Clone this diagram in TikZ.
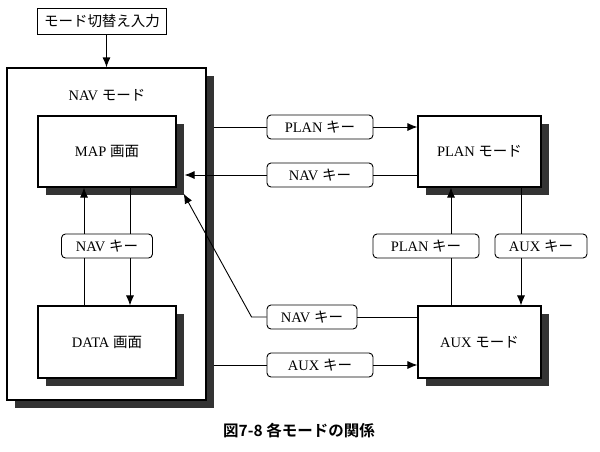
\documentclass[tikz,border=0pt]{standalone}
\usepackage{fontspec}
\usepackage{tikz}
\usetikzlibrary{arrows.meta,shadows}
\setmainfont{Liberation Serif}
\newfontfamily\jp{Noto Sans CJK JP}
\newfontfamily\jpb{Noto Sans CJK JP Bold}

\begin{document}
\begin{tikzpicture}[x=1pt,y=-1pt,font=\fontsize{14.5}{17}\selectfont]
    \tikzstyle{mode}=[draw, line width=1.1pt, fill=white, inner sep=0pt,
      drop shadow={shadow xshift=8pt, shadow yshift=-8pt, fill=black!80, opacity=1}]
    \tikzstyle{keybox}=[draw, line width=0.9pt, fill=white, rounded corners=4pt,
      minimum height=24pt, inner sep=0pt]
    \tikzstyle{arr}=[-{Latex[length=10pt,width=8pt]}]
    \useasboundingbox (0,0) rectangle (600,451);
    \node[draw, line width=1pt, minimum width=129pt, minimum height=26pt, inner sep=0pt] (input) at (102,21) {\jp モード切替え入力};
    \node[mode, minimum width=199pt, minimum height=332pt] (nav) at (106.5,234) {};
    \node (navlbl) at (107,95) {NAV {\jp モード}};
    \node[mode, minimum width=138pt, minimum height=71pt] (map) at (107,151.5) {MAP {\jp 画面}};
    \node[mode, minimum width=138pt, minimum height=72pt] (data) at (107,342) {DATA {\jp 画面}};
    \node[mode, minimum width=123pt, minimum height=71pt] (plan) at (479.5,151.5) {PLAN {\jp モード}};
    \node[mode, minimum width=123pt, minimum height=72pt] (aux) at (479.5,342) {AUX {\jp モード}};
    \node[keybox, minimum width=106pt] (k1) at (320,127) {PLAN {\jp キー}};
    \node[keybox, minimum width=106pt] (k2) at (320,175) {NAV {\jp キー}};
    \node[keybox, minimum width=91pt] (k3) at (107,246) {NAV {\jp キー}};
    \node[keybox, minimum width=106pt] (k4) at (426,246) {PLAN {\jp キー}};
    \node[keybox, minimum width=92pt] (k5) at (541,246) {AUX {\jp キー}};
    \node[keybox, minimum width=90pt] (k6) at (312,317) {NAV {\jp キー}};
    \node[keybox, minimum width=106pt] (k7) at (320,365) {AUX {\jp キー}};
    \node[font=\fontsize{15.5}{18}\jpb] (cap) at (299,431) {図7-8 各モードの関係};
    \coordinate (navR) at ([xshift=7pt]nav.east);
    \coordinate (mapR) at ([xshift=8pt]map.east);
    \coordinate (mapC) at ([shift={(7,6)}]map.south east);
    \coordinate (upL) at ([xshift=-23pt]map.south);
    \coordinate (dnR) at ([xshift=23pt]map.south);
    \coordinate (pL) at ([xshift=-28.5pt]plan.south);
    \coordinate (pR) at ([xshift=41.5pt]plan.south);
    \draw[line width=1.2pt, arr] (input.south -| nav.north) -- (nav.north);
    \begin{scope}[line width=0.9pt]
    \draw (upL |- data.north) -- (upL |- k3.south);
    \draw[arr] (upL |- k3.north) -- (upL);
    \draw (dnR) -- (dnR |- k3.north);
    \draw[arr] (dnR |- k3.south) -- (dnR |- data.north);
    \draw (navR |- k1) -- (k1);
    \draw[arr] (k1) -- (plan.west |- k1);
    \draw (plan.west |- k2) -- (k2);
    \draw[arr] (k2) -- (mapR |- k2);
    \draw (aux.west |- k6) -- (k6);
    \draw[arr] (k6.west) -- ++(-15,0) -- (mapC);
    \draw (navR |- k7) -- (k7);
    \draw[arr] (k7) -- (aux.west |- k7);
    \draw (pL |- aux.north) -- (pL |- k4.south);
    \draw[arr] (pL |- k4.north) -- (pL);
    \draw (pR) -- (pR |- k5.north);
    \draw[arr] (pR |- k5.south) -- (pR |- aux.north);
    \end{scope}
\end{tikzpicture}
\end{document}
